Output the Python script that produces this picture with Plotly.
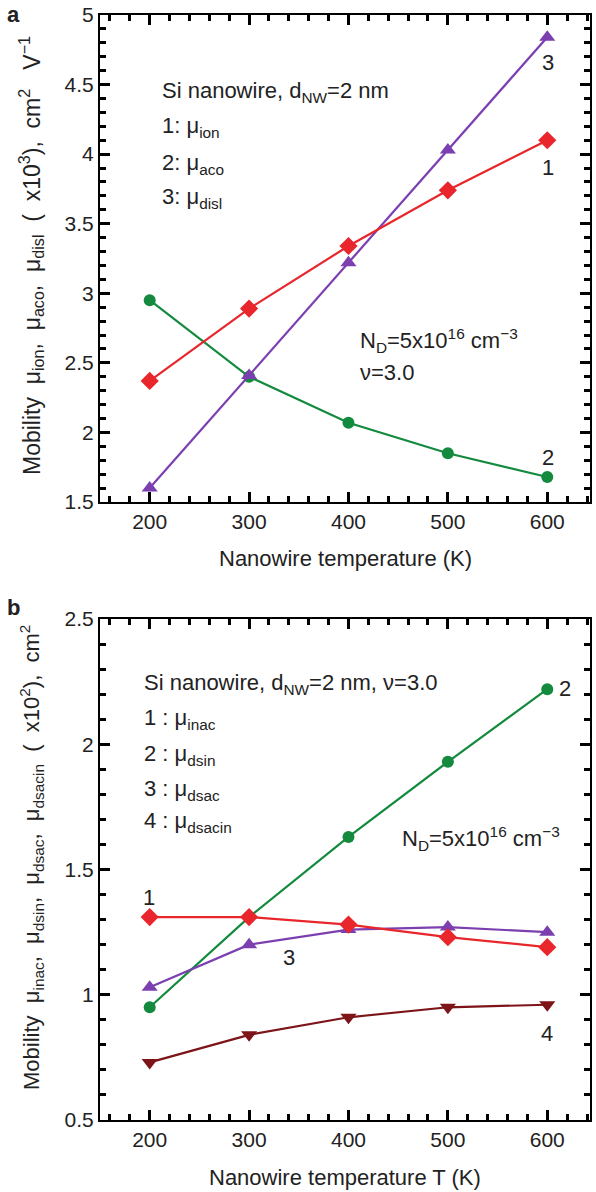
import plotly.graph_objects as go

# Temperatures (K)
temps = [200, 300, 400, 500, 600]

# Panel a: mobilities (x10^3 cm^2 V^-1 s^-1)
mu_ion = [2.37, 2.89, 3.34, 3.74, 4.10]
mu_aco = [2.95, 2.40, 2.07, 1.85, 1.68]
mu_disl = [1.60, 2.41, 3.22, 4.03, 4.84]

# Panel b: mobilities (x10^2 cm^2 V^-1 s^-1)
mu_inac = [1.31, 1.31, 1.28, 1.23, 1.19]
mu_dsin = [0.95, 1.31, 1.63, 1.93, 2.22]
mu_dsac = [1.03, 1.20, 1.26, 1.27, 1.25]
mu_dsacin = [0.73, 0.84, 0.91, 0.95, 0.96]

RED = "#e8262b"
GREEN = "#138a3e"
PURPLE = "#7b3fb0"
MAROON = "#7c1418"
FONT = "Liberation Sans, Arial, sans-serif"
INK = "#222222"

W, H = 596, 1192
LEFT, RIGHT = 100, 590
A_TOP, A_BOT = 15, 502
B_TOP, B_BOT = 619, 1120


def px_x(x):
    return x / W


def px_y(y):
    return 1 - y / H


fig = go.Figure()


def add_series(y, color, symbol, xa, ya, size):
    fig.add_trace(go.Scatter(
        x=temps, y=y, mode="lines+markers", xaxis=xa, yaxis=ya,
        line=dict(color=color, width=2.2),
        marker=dict(color=color, symbol=symbol, size=size),
        showlegend=False, hoverinfo="skip", cliponaxis=False,
    ))


add_series(mu_aco, GREEN, "circle", "x", "y", 12)
add_series(mu_disl, PURPLE, "triangle-up", "x", "y", 14)
add_series(mu_ion, RED, "diamond", "x", "y", 14)

add_series(mu_dsin, GREEN, "circle", "x2", "y2", 12)
add_series(mu_dsac, PURPLE, "triangle-up", "x2", "y2", 14)
add_series(mu_inac, RED, "diamond", "x2", "y2", 14)
add_series(mu_dsacin, MAROON, "triangle-down", "x2", "y2", 14)

xdom = [px_x(LEFT), px_x(RIGHT)]


def make_axis(**kw):
    ax = dict(
        showline=True, linecolor="black", linewidth=2, mirror="allticks",
        ticks="inside", ticklen=10, tickwidth=3, tickcolor="black",
        showgrid=True, gridcolor="rgba(0,0,0,0)",
        tickfont=dict(family=FONT, size=21, color=INK),
    )
    ax.update(kw)
    return ax


xminor = dict(dtick=20, ticks="inside", ticklen=6, tickwidth=2.5, tickcolor="black")
yminor = dict(dtick=0.1, ticks="inside", ticklen=6, tickwidth=2.5, tickcolor="black")

fig.update_layout(
    template="none",
    width=W, height=H, margin=dict(l=0, r=0, t=0, b=0),
    paper_bgcolor="white", plot_bgcolor="white",
    font=dict(family=FONT, color=INK), showlegend=False,
    xaxis=make_axis(domain=xdom, anchor="y", range=[150, 643], dtick=100, minor=xminor),
    yaxis=make_axis(domain=[px_y(A_BOT), px_y(A_TOP)], anchor="x", range=[1.5, 5],
                    dtick=0.5, minor=yminor),
    xaxis2=make_axis(domain=xdom, anchor="y2", range=[150, 643], dtick=100, minor=xminor),
    yaxis2=make_axis(domain=[px_y(B_BOT), px_y(B_TOP)], anchor="x2", range=[0.5, 2.5],
                     dtick=0.5, minor=yminor),
)


def text(x, y, s, size=22, xanchor="left", angle=0):
    fig.add_annotation(
        x=px_x(x), y=px_y(y), xref="paper", yref="paper", text=s,
        showarrow=False, xanchor=xanchor, yanchor="middle", textangle=angle,
        font=dict(family=FONT, size=size, color=INK),
    )


# Panel labels
text(5, 15, "<b>a</b>", size=22)
text(5, 607, "<b>b</b>", size=22)

# Axis titles
text(345, 558, "Nanowire temperature (K)", xanchor="center")
text(345, 1177, "Nanowire temperature T (K)", xanchor="center")
text(31, 256, "Mobility  μ<sub>ion</sub>,  μ<sub>aco</sub>,  μ<sub>disl</sub>  (  x10<sup>3</sup>),  cm<sup>2</sup>   V<sup>−1</sup>",
     size=23, xanchor="center", angle=-90)
text(31, 858, "Mobility  μ<sub>inac</sub>,  μ<sub>dsin</sub>,  μ<sub>dsac</sub>,  μ<sub>dsacin</sub>  (  x10<sup>2</sup>),  cm<sup>2</sup>",
     size=22, xanchor="center", angle=-90)

# Panel a notes
text(160, 92, "Si nanowire, d<sub>NW</sub>=2 nm")
text(160, 127, "1: μ<sub>ion</sub>")
text(160, 164, "2: μ<sub>aco</sub>")
text(160, 198, "3: μ<sub>disl</sub>")
text(358, 340, "N<sub>D</sub>=5x10<sup>16</sup> cm<sup>−3</sup>")
text(358, 373, "ν=3.0")
text(548, 62, "3", xanchor="center")
text(548, 167, "1", xanchor="center")
text(548, 457, "2", xanchor="center")

# Panel b notes
text(142, 684, "Si nanowire, d<sub>NW</sub>=2 nm, ν=3.0")
text(142, 719, "1 : μ<sub>inac</sub>")
text(142, 755, "2 : μ<sub>dsin</sub>")
text(142, 790, "3 : μ<sub>dsac</sub>")
text(142, 822, "4 : μ<sub>dsacin</sub>")
text(400, 838, "N<sub>D</sub>=5x10<sup>16</sup> cm<sup>−3</sup>")
text(149, 897, "1", xanchor="center")
text(565, 688, "2", xanchor="center")
text(289, 957, "3", xanchor="center")
text(547, 1033, "4", xanchor="center")

fig.write_html("out.html")
